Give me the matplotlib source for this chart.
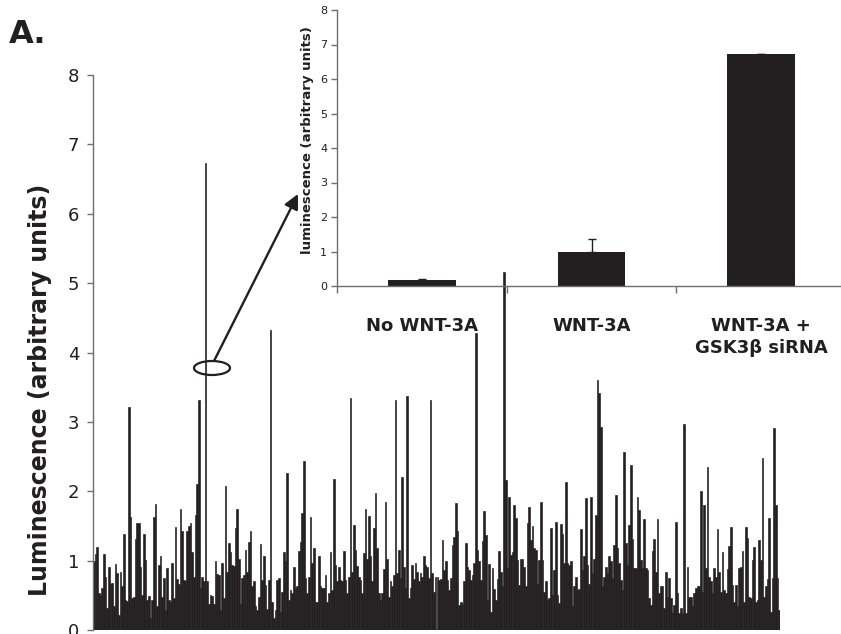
import matplotlib
matplotlib.use("Agg")
import matplotlib.pyplot as plt
from matplotlib.patches import Ellipse

# ---------------- data ----------------
well_values = [
    0.99, 1.1, 1.19, 0.53, 0.5, 0.6, 1.1, 0.77, 0.31, 0.91, 0.67, 0.68, 0.34, 0.95, 0.82, 0.22, 0.83, 0.64, 1.38, 0.43,
    0.42, 3.21, 1.63, 0.46, 0.48, 1.31, 1.54, 1.54, 0.91, 0.5, 1.39, 1.01, 0.43, 0.49, 0.17, 0.43, 1.63, 1.82, 0.34, 0.94,
    1.06, 0.48, 0.75, 0.29, 0.89, 0.43, 0.41, 0.97, 0.46, 1.48, 0.73, 0.67, 1.74, 1.43, 0.72, 0.71, 1.42, 1.5, 1.54, 1.13,
    0.77, 1.66, 2.1, 3.31, 0.6, 0.77, 0.7, 6.73,
    0.7, 0.38, 0.51, 0.49, 0.38, 0.99, 0.81, 0.79, 0.29, 0.97, 0.46, 2.07, 0.84, 1.25, 1.12, 0.94, 0.92, 1.47, 1.74, 1.03,
    0.38, 0.75, 0.79, 1.15, 0.84, 1.27, 1.43, 0.63, 0.7, 0.34, 0.29, 0.48, 1.24, 0.72, 1.07, 0.65, 0.3, 0.72, 4.32, 0.41,
    0.18, 0.29, 0.72, 0.75, 0.26, 0.55, 1.13, 0.99, 2.26, 0.43, 0.58, 0.53, 0.91, 0.6, 0.63, 1.14, 1.27, 1.69, 2.43, 0.75,
    0.53, 0.77, 1.63, 0.97, 1.18, 0.41, 0.41, 1.07, 0.63, 0.6, 0.6,
    0.79, 0.41, 0.54, 1.12, 0.58, 2.17, 0.94, 0.7, 0.91, 0.72, 0.7, 1.14, 0.72, 0.53, 0.77, 3.34, 0.84, 1.51, 1.15, 0.92,
    0.77, 0.72, 0.53, 1.11, 1.74, 1.03, 1.64, 1.06, 0.7, 1.47, 1.97, 1.18, 0.53, 0.43, 0.53, 0.88, 1.84, 1.03, 0.48, 0.71,
    0.63, 0.79, 3.32, 0.82, 1.15, 0.75, 2.2, 0.91, 0.6, 3.37, 0.46, 0.6, 0.94, 0.73, 0.96, 0.84, 0.7, 0.82, 0.77, 1.07,
    0.94, 0.91, 0.75, 3.32, 0.82, 0.55, 0.77, 0.76, 0.72,
    0.73, 1.3, 0.87, 0.99, 0.72, 0.58, 0.75, 1.23, 1.34, 1.83, 1.42, 0.36, 0.41, 0.38, 0.7, 1.26, 0.91, 0.86, 0.72, 0.79,
    0.97, 4.28, 1.15, 0.99, 0.72, 1.29, 1.72, 1.37, 0.43, 0.95, 0.26, 0.89, 0.59, 0.43, 0.73, 1.14, 0.84, 0.63, 5.16, 2.16,
    0.89, 1.91, 1.08, 1.13, 1.8, 1.61, 1.01, 0.65, 1.03, 1.03, 0.91, 0.63, 1.54, 1.78, 1.3, 1.5, 1.18, 1.16, 0.67, 1.01,
    1.84, 1.01, 0.55, 0.71, 0.43, 0.46, 1.47, 0.5, 0.87,
    1.56, 0.5, 0.39, 1.53, 1.39, 0.96, 2.14, 0.96, 0.94, 0.99, 0.34, 0.63, 0.77, 0.58, 0.59, 1.45, 0.87, 1.06, 1.9, 0.94,
    0.67, 1.91, 0.82, 1.03, 1.66, 3.6, 3.41, 2.93, 0.63, 0.77, 0.91, 0.82, 1.06, 0.99, 0.75, 1.23, 1.95, 1.18, 0.96, 0.72,
    0.58, 2.56, 1.26, 0.94, 1.51, 2.38, 1.31, 0.89, 0.89, 1.91, 1.73, 1.01, 0.89, 1.6, 0.89, 0.87, 0.46, 0.36, 1.14, 1.31,
    0.83, 1.6, 0.53, 0.63, 0.63, 0.31, 0.84, 0.48, 0.75,
    0.46, 0.24, 0.36, 1.56, 0.53, 0.24, 0.31, 0.25, 2.97, 0.24, 0.91, 0.48, 0.48, 0.34, 0.53, 0.6, 0.63, 0.63, 2.0, 0.55,
    1.8, 0.89, 2.35, 0.77, 0.7, 0.53, 0.89, 0.77, 1.45, 0.83, 0.55, 1.12, 0.58, 0.53, 0.88, 1.21, 1.48, 0.65, 0.41, 0.65,
    0.34, 0.89, 0.91, 1.14, 0.41, 1.48, 1.32, 0.48, 0.46, 1.01, 1.19, 0.41, 0.43, 1.3, 1.01, 2.48, 0.48, 0.63, 0.73, 1.61,
    0.26, 0.75, 2.91, 1.8, 0.75, 0.29,
]
main_yticks = [0, 1, 2, 3, 4, 5, 6, 7, 8]

inset_categories = ["No WNT-3A", "WNT-3A", "WNT-3A +\nGSK3\u03b2 siRNA"]
inset_values = [0.17, 1.0, 6.72]
inset_err_up = [0.04, 0.37, 0.0]
inset_yticks = [0, 1, 2, 3, 4, 5, 6, 7, 8]

DARK = "#231f20"
AXC = "#6d6e71"

# ---------------- figure ----------------
W, H = 841, 634
fig = plt.figure(figsize=(W / 100, H / 100), dpi=100)
fig.patch.set_facecolor("white")

def fx(px):
    return px / W

def fy(py):
    return 1 - py / H

# main axes: left spine x=93, y=0 at 630, y=8 at 75; bars end at ~780
ax = fig.add_axes([fx(93), fy(630), fx(780) - fx(93), fy(75) - fy(630)])
n = len(well_values)
ax.bar(range(n), well_values, width=1.0, color=DARK, edgecolor=DARK, linewidth=0.45)
ax.set_xlim(-0.5, n - 0.5)
ax.set_ylim(0, 8)
ax.set_yticks(main_yticks)
ax.set_yticklabels([str(t) for t in main_yticks], fontsize=13, color=DARK)
ax.tick_params(axis="y", direction="out", length=4, width=1, color=AXC, pad=6)
ax.set_xticks([])
for s in ["top", "right", "bottom"]:
    ax.spines[s].set_visible(False)
ax.spines["left"].set_color(AXC)
ax.spines["left"].set_linewidth(1)
ax.patch.set_alpha(0)

fig.text(fx(40), fy(390), "Luminescence (arbitrary units)", rotation=90,
         ha="center", va="center", fontsize=17, fontweight="bold", color=DARK)
fig.text(fx(9), fy(43), "A.", ha="left", va="baseline", fontsize=23,
         fontweight="bold", color=DARK)

# ellipse + arrow in main axes data coords
px_per_bar = (780 - 93) / n
def bx(px):
    return (px - 93) / px_per_bar - 0.5

def by(py):
    return (630 - py) / ((630 - 75) / 8)

ell = Ellipse((bx(212), by(368)), width=36 / px_per_bar, height=14 / ((630 - 75) / 8),
              facecolor="none", edgecolor=DARK, lw=1.6, zorder=5, clip_on=False)
ax.add_patch(ell)
ax.annotate("", xy=(bx(298), by(194)), xytext=(bx(214), by(361)),
            arrowprops=dict(arrowstyle="-|>", mutation_scale=22, lw=1.7, color=DARK,
                            shrinkA=0, shrinkB=0),
            annotation_clip=False, zorder=6)

# inset axes: y axis at x=337, 0 at y=286, 8 at y=10; category width ~170 px
axi = fig.add_axes([fx(337), fy(286), fx(846) - fx(337), fy(10) - fy(286)])
axi.patch.set_alpha(0)
xpos = [0.5, 1.5, 2.5]
axi.bar(xpos, inset_values, width=0.4, color=DARK, edgecolor="none",
        yerr=[[0, 0, 0], inset_err_up], capsize=3,
        error_kw=dict(ecolor=DARK, elinewidth=1, capthick=1))
axi.set_xlim(0, 3)
axi.set_ylim(0, 8)
axi.set_yticks(inset_yticks)
axi.set_yticklabels([str(t) for t in inset_yticks], fontsize=8, color=DARK)
axi.tick_params(axis="y", direction="out", length=4, width=1, color=AXC, pad=3)
axi.set_xticks([0, 1, 2, 3])
axi.set_xticklabels([])
axi.tick_params(axis="x", which="major", direction="out", length=5, width=1, color=AXC)
axi.set_xticks(xpos, minor=True)
axi.set_xticklabels(inset_categories, minor=True, fontsize=13, fontweight="bold",
                    color=DARK, linespacing=1.3)
axi.tick_params(axis="x", which="minor", length=0, pad=22)
for s in ["top", "right"]:
    axi.spines[s].set_visible(False)
for s in ["left", "bottom"]:
    axi.spines[s].set_color(AXC)
    axi.spines[s].set_linewidth(1)

fig.text(fx(308), fy(140), "luminescence (arbitrary units)", rotation=90,
         ha="center", va="center", fontsize=9.5, fontweight="bold", color=DARK)

fig.savefig("out.png", dpi=100, facecolor="white")
